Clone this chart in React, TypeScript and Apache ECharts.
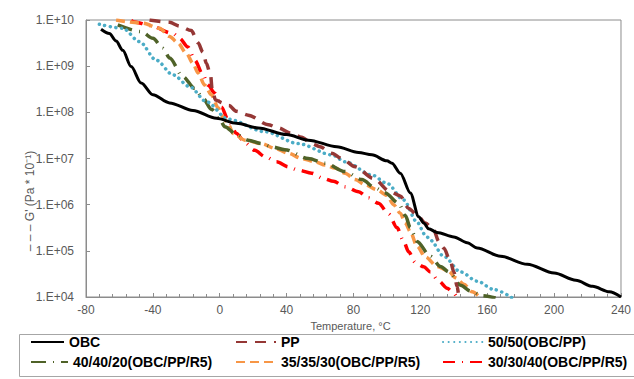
import React, { useEffect, useRef } from "react";
import * as echarts from "echarts";

const xTicks = [-80, -40, 0, 40, 80, 120, 160, 200, 240];
const yTickExponents = [4, 5, 6, 7, 8, 9, 10];

const seriesNames = [
  "OBC",
  "PP",
  "50/50(OBC/PP)",
  "40/40/20(OBC/PP/R5)",
  "35/35/30(OBC/PP/R5)",
  "30/30/40(OBC/PP/R5)",
];

const obc = [
  [-71, 6.3e9], [-66, 5.1e9], [-62, 3.5e9], [-58, 2.2e9], [-53, 9.8e8], [-47, 4.3e8],
  [-40, 2.4e8], [-30, 1.6e8], [-16, 1.1e8], [-2, 7.4e7], [10, 5.8e7], [23, 4.6e7],
  [40, 3.3e7], [53, 2.5e7], [70, 1.8e7], [83, 1.35e7], [91, 1.2e7], [100, 8.9e6],
  [103, 7.9e6], [108, 4.8e6], [114, 1.8e6], [119, 5.5e5], [122, 4.0e5], [125, 3.0e5],
  [130, 2.5e5], [140, 2.0e5], [148, 1.5e5], [154, 1.15e5], [168, 7.6e4], [184, 5.1e4],
  [200, 3.3e4], [213, 2.3e4], [223, 1.7e4], [233, 1.3e4], [240, 1.0e4],
];

const pp = [
  [-42, 1.0e10], [-30, 8.9e9], [-24, 7.4e9], [-17, 5.9e9], [-13, 3.2e9], [-10, 2.0e9],
  [-8, 1.15e9], [-5.5, 6.5e8], [-4.5, 3.0e8], [-2.5, 1.86e8], [2, 1.6e8], [5.5, 1.4e8],
  [10, 1.05e8], [17, 8.7e7], [29, 5.4e7], [35, 4.6e7], [43, 3.5e7], [49, 2.9e7],
  [55, 2.1e7], [60, 1.8e7], [67, 1.3e7], [73, 1.0e7], [81, 6.6e6], [92, 3.7e6],
  [102, 1.9e6], [108, 1.55e6], [113, 8.3e5], [118, 6.0e5], [123, 4.0e5], [128, 2.8e5],
  [131, 1.6e5], [134, 1.15e5], [138, 5.9e4], [140, 3.5e4], [142, 1.7e4], [143, 9.5e3],
];

const blend5050 = [
  [-72, 8.1e9], [-58, 6.6e9], [-48, 3.4e9], [-38, 1.35e9], [-28, 6.5e8], [-18, 3.6e8],
  [-8, 1.7e8], [5, 7.1e7], [27, 3.8e7], [47, 2.1e7], [67, 1.2e7], [75, 8.5e6],
  [91, 4.4e6], [100, 2.9e6], [110, 1.26e6], [118, 4.2e5], [123, 2.2e5], [126, 1.7e5],
  [134, 7.6e4], [144, 3.5e4], [154, 2.2e4], [164, 1.45e4], [175, 9.5e3],
];

const blend404020 = [
  [-61, 7.8e9], [-47, 5.6e9], [-40, 4.0e9], [-34, 2.45e9], [-30, 1.5e9], [-22, 5.9e8],
  [-15, 3.3e8], [-10, 2.0e8], [-5, 1.17e8], [0, 7.1e7], [3, 4.9e7], [10, 3.3e7],
  [17, 2.5e7], [25, 2.1e7], [31, 1.8e7], [39, 1.55e7], [53, 1.0e7], [63, 7.9e6],
  [75, 5.2e6], [85, 3.5e6], [93, 2.3e6], [99, 1.8e6], [107, 1.07e6], [111, 5.8e5],
  [114, 3.2e5], [118, 1.6e5], [126, 7.6e4], [132, 4.6e4], [137, 3.5e4], [144, 1.8e4],
  [150, 1.35e4], [157, 1.07e4], [165, 9.5e3],
];

const blend353530 = [
  [-62, 1.0e10], [-46, 8.5e9], [-36, 6.6e9], [-30, 4.4e9], [-25, 3.2e9], [-20, 1.9e9],
  [-16, 1.15e9], [-13, 7.1e8], [-9, 3.9e8], [-5, 2.4e8], [-1, 1.26e8], [2, 7.9e7],
  [5, 5.6e7], [8, 3.5e7], [15, 2.5e7], [25, 2.1e7], [33, 1.66e7], [41, 1.3e7],
  [49, 1.0e7], [57, 8.5e6], [63, 7.2e6], [69, 6.2e6], [75, 4.8e6], [81, 3.5e6],
  [87, 2.7e6], [94, 2.1e6], [100, 1.6e6], [104, 1.0e6], [108, 6.5e5], [111, 4.0e5],
  [114, 2.6e5], [118, 1.26e5], [123, 7.4e4], [130, 4.6e4], [137, 3.6e4], [141, 2.6e4],
  [146, 1.9e4], [151, 1.3e4], [156, 9.5e3],
];

const blend303040 = [
  [-53, 9.8e9], [-51, 9.1e9], [-42, 7.6e9], [-28, 5.1e9], [-24, 4.0e9], [-19, 2.6e9],
  [-15, 1.35e9], [-10, 6.5e8], [-7, 3.9e8], [-3, 2.6e8], [1, 1.3e8], [5, 6.9e7],
  [10, 3.5e7], [15, 2.2e7], [21, 1.5e7], [27, 1.1e7], [34, 8.5e6], [41, 6.6e6],
  [47, 5.6e6], [55, 4.8e6], [62, 3.7e6], [68, 3.2e6], [75, 2.45e6], [83, 1.9e6],
  [89, 1.4e6], [95, 1.07e6], [101, 6.3e5], [106, 3.2e5], [110, 1.6e5], [113, 9.5e4],
  [117, 5.6e4], [122, 4.5e4], [126, 3.5e4], [131, 2.2e4], [136, 1.55e4], [140, 1.2e4],
  [142, 9.5e3],
];

const FONT = "'Liberation Sans', Arial, sans-serif";

export default function App() {
  const ref = useRef<HTMLDivElement>(null);

  useEffect(() => {
    if (!ref.current) return;
    const chart = echarts.init(ref.current, undefined, { renderer: "svg" });

    const styles = [
      { color: "#000000", width: 3, type: "solid" as any, cap: "butt" },
      { color: "#953735", width: 3.5, type: [11, 8] as any, cap: "butt" },
      { color: "#4bacc6", width: 3.5, type: [0.1, 5.5] as any, cap: "round" },
      { color: "#4f6228", width: 3.5, type: [15, 7, 1, 7] as any, cap: "butt" },
      { color: "#f79646", width: 3.5, type: [9, 5] as any, cap: "butt" },
      { color: "#ff0000", width: 3.5, type: [12, 7, 1, 7] as any, cap: "butt" },
    ];
    const datasets = [obc, pp, blend5050, blend404020, blend353530, blend303040];

    const series = datasets.map((d, i) => ({
      name: seriesNames[i],
      type: "line",
      data: d,
      showSymbol: false,
      symbol: "none",
      smooth: 0.3,
      smoothMonotone: "x",
      clip: true,
      z: 10 - i,
      lineStyle: {
        color: styles[i].color,
        width: styles[i].width,
        type: styles[i].type,
        cap: styles[i].cap,
      },
      itemStyle: { color: styles[i].color },
    }));

    const legendPos = [
      { left: 30, top: 335, w: 33 },
      { left: 235, top: 335, w: 40 },
      { left: 442, top: 335, w: 40 },
      { left: 30, top: 355, w: 37 },
      { left: 235, top: 355, w: 40 },
      { left: 442, top: 355, w: 40 },
    ];

    const legends = seriesNames.map((n, i) => ({
      data: [n],
      left: legendPos[i].left,
      top: legendPos[i].top,
      padding: 0,
      itemWidth: legendPos[i].w,
      itemHeight: 14,
      itemGap: 0,
      selectedMode: false,
      itemStyle: { opacity: 0 },
      textStyle: {
        fontFamily: FONT,
        fontSize: 14,
        fontWeight: "bold",
        color: "#000000",
      },
    }));

    chart.setOption({
      animation: false,
      backgroundColor: "#ffffff",
      grid: {
        left: 86,
        right: 9,
        top: 20,
        bottom: 82,
        show: true,
        borderColor: "#8c8c8c",
        borderWidth: 1,
        containLabel: false,
      },
      legend: legends,
      xAxis: {
        type: "value",
        min: xTicks[0],
        max: xTicks[xTicks.length - 1],
        interval: 40,
        name: "Temperature, °C",
        nameLocation: "middle",
        nameGap: 23,
        nameTextStyle: {
          fontFamily: FONT,
          fontSize: 11,
          color: "#595959",
          padding: [0, 6, 0, 0],
        },
        axisLine: { show: true, onZero: false, lineStyle: { color: "#8c8c8c", width: 1 } },
        axisTick: { show: true, inside: true, length: 4, lineStyle: { color: "#8c8c8c" } },
        minorTick: { show: true, splitNumber: 5, length: 3, lineStyle: { color: "#8c8c8c" } },
        splitLine: { show: false },
        axisLabel: {
          fontFamily: FONT,
          fontSize: 12,
          color: "#595959",
          margin: 7,
          formatter: (v: number) => String(v),
        },
      },
      yAxis: {
        type: "log",
        logBase: 10,
        min: Math.pow(10, yTickExponents[0]),
        max: Math.pow(10, yTickExponents[yTickExponents.length - 1]),
        axisLine: { show: true, onZero: false, lineStyle: { color: "#8c8c8c", width: 1 } },
        axisTick: { show: true, inside: true, length: 4, lineStyle: { color: "#8c8c8c" } },
        minorTick: { show: false },
        splitLine: { show: false },
        axisLabel: {
          fontFamily: FONT,
          fontSize: 12,
          color: "#595959",
          margin: 12,
          formatter: (v: number) => {
            const e = Math.round(Math.log10(v));
            return "1.E+" + (e < 10 ? "0" + e : String(e));
          },
        },
      },
      graphic: [
        {
          type: "rect",
          left: 17,
          top: 332,
          shape: { width: 625, height: 42 },
          style: { fill: "none", stroke: "#a6a6a6", lineWidth: 1 },
          z: 0,
          silent: true,
        },
        {
          type: "text",
          x: 30,
          y: 201,
          rotation: Math.PI / 2,
          style: {
            text: "– – – G' (Pa * 10⁻¹)",
            fontFamily: FONT,
            fontSize: 12,
            fill: "#595959",
            align: "center",
            verticalAlign: "middle",
          },
          silent: true,
        },
      ],
      series,
    });

    return () => chart.dispose();
  }, []);

  return (
    <div
      ref={ref}
      style={{ position: "fixed", left: 0, top: 0, width: 634, height: 379 }}
    />
  );
}
